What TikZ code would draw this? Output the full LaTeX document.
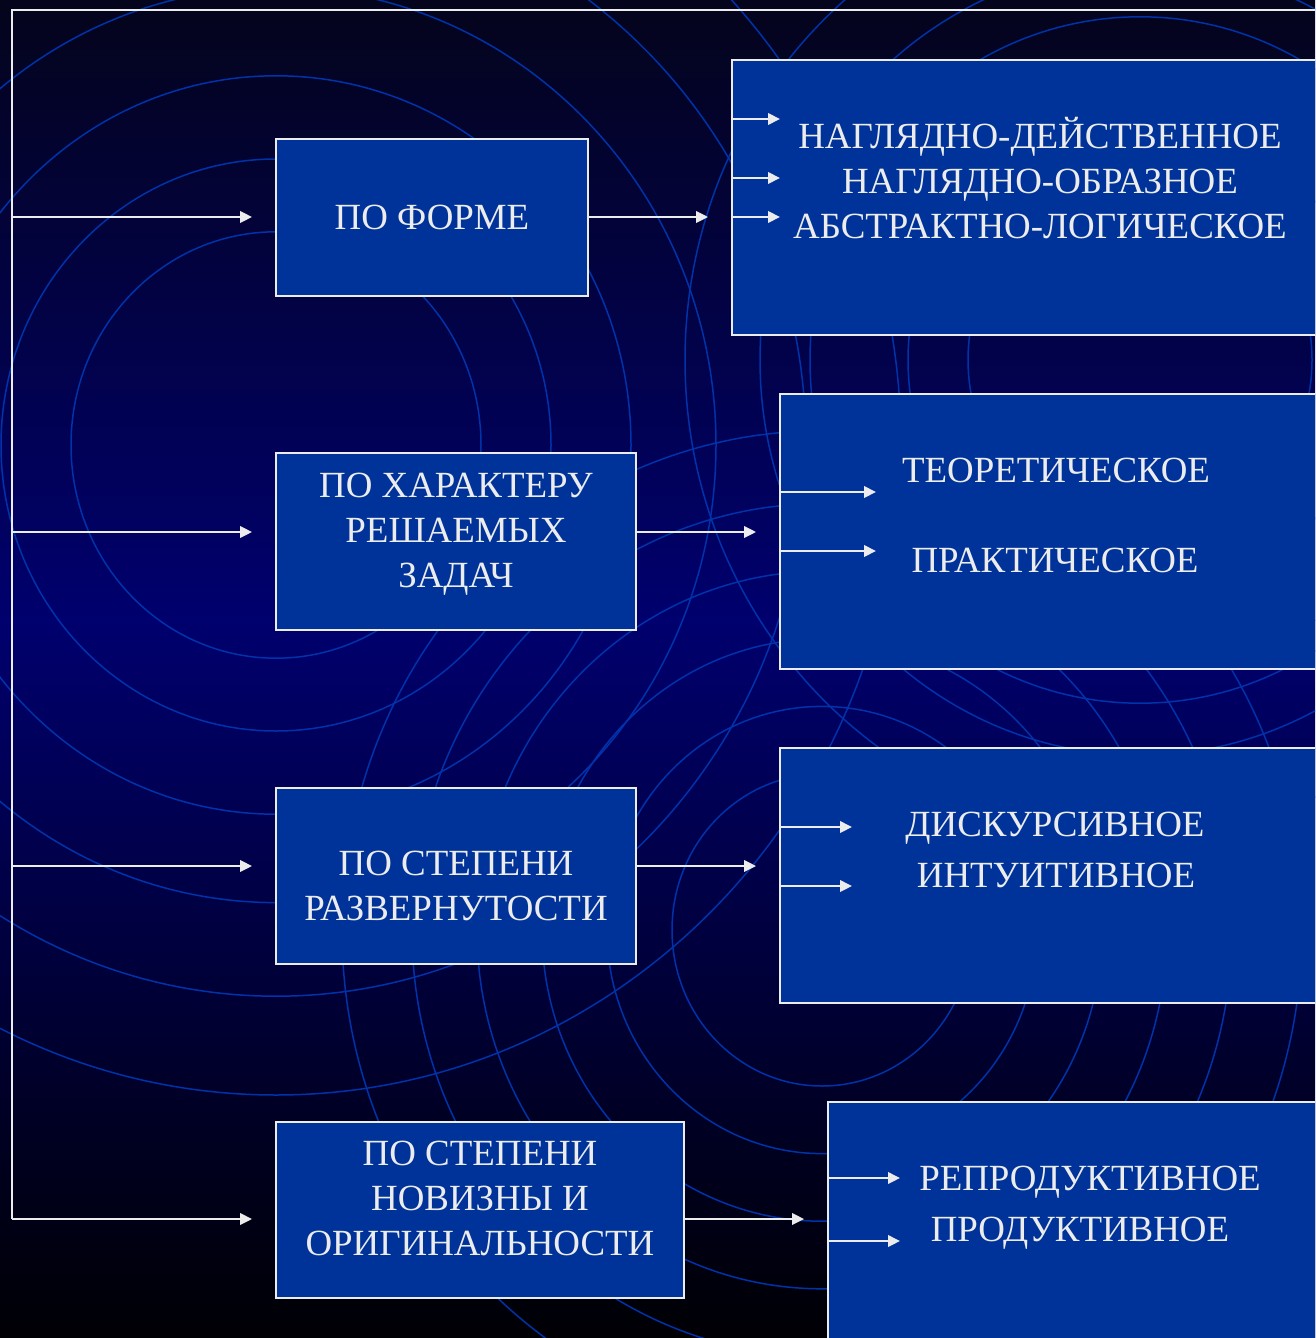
\documentclass[tikz,border=0pt]{standalone}
\usepackage{fontspec}
\setmainfont{Liberation Serif}
\usetikzlibrary{arrows.meta}

\definecolor{cajaazul}{RGB}{0,51,153}
\definecolor{anillo}{RGB}{0,50,170}
\definecolor{claro}{RGB}{236,236,236}
\definecolor{fondoarriba}{RGB}{4,4,28}
\definecolor{fondomedio}{RGB}{0,0,110}
\definecolor{fondoabajo}{RGB}{0,0,4}

\tikzset{
  caja/.style={draw=claro, fill=cajaazul, line width=0.04cm, inner sep=0pt, outer sep=0pt},
  texto/.style={text=claro, align=center, anchor=base, inner sep=0pt, font=\fontsize{21}{25.6}\selectfont},
  flecha/.style={draw=claro, line width=0.04cm, -{Triangle[length=0.24cm, width=0.23cm]}},
  linea/.style={draw=claro, line width=0.04cm},
  aro/.style={draw=anillo, line width=0.03cm}
}

\begin{document}
\begin{tikzpicture}[x=0.02cm, y=-0.02cm]
\useasboundingbox (0,0) rectangle (1315,1338);
\clip (0,0) rectangle (1315,1338);

% Fondo
\shade[top color=fondoarriba, bottom color=fondomedio] (0,0) rectangle (1315,620);
\shade[top color=fondomedio, bottom color=fondoabajo] (0,620) rectangle (1315,1338);
\foreach \r in {205,275,355,440,530,625}
  \draw[aro] (276,445) ellipse [x radius=\r, y radius=1.04*\r];
\foreach \r in {150,215,280,345,410,480}
  \draw[aro] (822,930) ellipse [x radius=\r, y radius=1.04*\r];
\foreach \r in {172,232,330,380,455}
  \draw[aro] (1140,360) ellipse [x radius=\r, y radius=1.04*\r];

% Cajas de la izquierda
\node[caja, minimum width=6.24cm, minimum height=3.14cm] (f1) at (432,217.5) {};
\node[caja, minimum width=7.2cm, minimum height=3.54cm] (f2) at (456,541.5) {};
\node[caja, minimum width=7.2cm, minimum height=3.52cm] (f3) at (456,876) {};
\node[caja, minimum width=8.16cm, minimum height=3.52cm] (f4) at (480,1210) {};

% Cajas de la derecha
\node[caja, minimum width=11.96cm, minimum height=5.5cm] (r1) at (1031,197.5) {};
\node[caja, minimum width=11cm, minimum height=5.5cm] (r2) at (1055,531.5) {};
\node[caja, minimum width=11cm, minimum height=5.1cm] (r3) at (1055,875.5) {};
\node[caja, minimum width=10.04cm, minimum height=4.96cm] (r4) at (1079,1226) {};

% Textos (base de la ultima linea)
\node[texto] (e1) at (432,229.5) {ПО ФОРМЕ};
\node[texto] (e2) at (456,587.5) {ПО ХАРАКТЕРУ\\РЕШАЕМЫХ\\ЗАДАЧ};
\node[texto] (e3) at (456,920.5) {ПО СТЕПЕНИ\\РАЗВЕРНУТОСТИ};
\node[texto] (e4) at (480,1255.5) {ПО СТЕПЕНИ\\НОВИЗНЫ И\\ОРИГИНАЛЬНОСТИ};
\node[texto] (t1) at (1040,238.5) {НАГЛЯДНО-ДЕЙСТВЕННОЕ\\НАГЛЯДНО-ОБРАЗНОЕ\\АБСТРАКТНО-ЛОГИЧЕСКОЕ};
\node[texto] (t2a) at (1056,482.5) {ТЕОРЕТИЧЕСКОЕ};
\node[texto] (t2b) at (1055,572.5) {ПРАКТИЧЕСКОЕ};
\node[texto] (t3a) at (1055,836.5) {ДИСКУРСИВНОЕ};
\node[texto] (t3b) at (1056,887.5) {ИНТУИТИВНОЕ};
\node[texto] (t4a) at (1090,1190.5) {РЕПРОДУКТИВНОЕ};
\node[texto] (t4b) at (1080,1241.5) {ПРОДУКТИВНОЕ};

% Tronco
\coordinate (esq) at (12,10);
\coordinate (der) at (1315,10);
\coordinate (s1) at (12,217);
\coordinate (s2) at (12,532);
\coordinate (s3) at (12,866);
\coordinate (s4) at (12,1219);
\draw[linea] (s4) -- (esq) -- (der);

% Flechas principales
\draw[flecha, shorten >=0.48cm] (s1) -- (f1.west |- s1);
\draw[flecha, shorten >=0.48cm] (s2) -- (f2.west |- s2);
\draw[flecha, shorten >=0.48cm] (s3) -- (f3.west |- s3);
\draw[flecha, shorten >=0.48cm] (s4) -- (f4.west |- s4);
\draw[flecha, shorten >=0.48cm] (f1.east |- s1) -- (r1.west |- s1);
\draw[flecha, shorten >=0.48cm] (f2.east |- s2) -- (r2.west |- s2);
\draw[flecha, shorten >=0.48cm] (f3.east |- s3) -- (r3.west |- s3);
\draw[flecha, shorten >=0.48cm] (f4.east |- s4) -- (r4.west |- s4);

% Flechas interiores
\coordinate (p1a) at (780,119);
\coordinate (p1b) at (780,178);
\coordinate (p1c) at (780,217);
\draw[flecha] (r1.west |- p1a) -- (p1a);
\draw[flecha] (r1.west |- p1b) -- (p1b);
\draw[flecha] (r1.west |- p1c) -- (p1c);
\coordinate (p2a) at (876,492);
\coordinate (p2b) at (876,551);
\draw[flecha] (r2.west |- p2a) -- (p2a);
\draw[flecha] (r2.west |- p2b) -- (p2b);
\coordinate (p3a) at (852,827);
\coordinate (p3b) at (852,886);
\draw[flecha] (r3.west |- p3a) -- (p3a);
\draw[flecha] (r3.west |- p3b) -- (p3b);
\coordinate (p4a) at (900,1178);
\coordinate (p4b) at (900,1241);
\draw[flecha] (r4.west |- p4a) -- (p4a);
\draw[flecha] (r4.west |- p4b) -- (p4b);
\end{tikzpicture}
\end{document}
